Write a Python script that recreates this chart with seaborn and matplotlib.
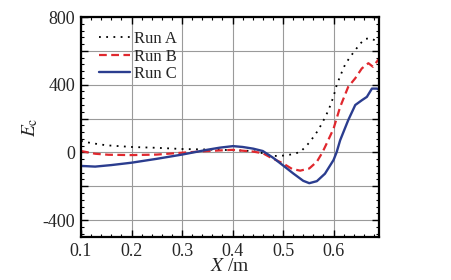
import numpy as np
import pandas as pd
import matplotlib
matplotlib.use("Agg")
import matplotlib.pyplot as plt
from matplotlib.ticker import MultipleLocator, FixedLocator, FuncFormatter
import seaborn as sns

sns.set_theme(style="ticks")
plt.rcParams["font.family"] = ["Liberation Serif", "DejaVu Serif"]
plt.rcParams["mathtext.fontset"] = "stix"
plt.rcParams["axes.unicode_minus"] = False

# Run A (black dotted)
xa = [0.1, 0.12, 0.15, 0.2, 0.25, 0.3, 0.35, 0.4, 0.44, 0.46, 0.474, 0.49, 0.503,
      0.517, 0.534, 0.544, 0.553, 0.567, 0.577, 0.59, 0.6, 0.606, 0.613, 0.623,
      0.633, 0.643, 0.652, 0.662, 0.672, 0.68, 0.69]
ya = [68, 55, 42, 32, 27, 20, 17, 13, 8, -5, -18, -22, -18,
      -12, 2, 32, 61, 120, 170, 249, 330, 395, 450, 520,
      565, 604, 640, 670, 675, 665, 650]

# Run B (red dashed)
xb = [0.1, 0.128, 0.154, 0.2, 0.25, 0.3, 0.35, 0.4, 0.44, 0.46, 0.474, 0.5, 0.518,
      0.534, 0.552, 0.567, 0.578, 0.586, 0.6, 0.613, 0.629, 0.643, 0.656, 0.669,
      0.678, 0.688, 0.69]
yb = [8, -8, -14, -16, -13, -2, 8, 15, 5, -5, -28, -65, -98,
      -108, -95, -55, 0, 50, 140, 268, 387, 438, 496, 527,
      506, 545, 550]

# Run C (blue solid)
xc = [0.1, 0.128, 0.16, 0.2, 0.25, 0.3, 0.351, 0.375, 0.401, 0.42, 0.441, 0.46,
      0.48, 0.5, 0.52, 0.54, 0.552, 0.567, 0.583, 0.6, 0.606, 0.613, 0.629,
      0.643, 0.656, 0.666, 0.676, 0.686, 0.69]
yc = [-80, -84, -75, -61, -38, -13, 16, 28, 37, 32, 22, 8,
      -31, -77, -124, -168, -182, -170, -126, -45, 0, 71, 190,
      280, 308, 328, 377, 377, 370]

fig = plt.figure(figsize=(4.52, 2.80), dpi=100)
ax = fig.add_axes([81 / 452, 43 / 280, 298 / 452, 220 / 280])

sns.lineplot(x=xa, y=ya, ax=ax, color="black", linestyle=(0, (1, 3)),
             linewidth=1.3, label="Run A", sort=False)
sns.lineplot(x=xb, y=yb, ax=ax, color="#e0282e", linestyle=(0, (3.5, 2)),
             linewidth=1.6, label="Run B", sort=False)
sns.lineplot(x=xc, y=yc, ax=ax, color="#2b3d8f", linestyle="-",
             linewidth=1.7, label="Run C", sort=False)

ax.set_xlim(0.1, 0.69)
ax.set_ylim(-500, 800)

ax.xaxis.set_major_locator(MultipleLocator(0.1))
ax.xaxis.set_minor_locator(MultipleLocator(0.02))
ax.xaxis.set_major_formatter(FuncFormatter(lambda v, p: f"{v:.1f}"))
ax.yaxis.set_major_locator(FixedLocator([-400, -200, 0, 200, 400, 600, 800]))
ax.yaxis.set_minor_locator(MultipleLocator(40))
ax.yaxis.set_major_formatter(
    FuncFormatter(lambda v, p: f"{int(v)}" if int(v) % 400 == 0 else ""))

ax.grid(True, which="major", color="#9a9a9a", linewidth=0.8)
ax.tick_params(which="both", direction="in", top=True, right=True,
               color="black", labelsize=13, pad=4)
ax.tick_params(which="major", length=5, width=1)
ax.tick_params(which="minor", length=2.5, width=0.8)
for s in ax.spines.values():
    s.set_color("black")
    s.set_linewidth(1.6)

ax.set_xlabel("$X$ /m", fontsize=14, labelpad=-1)
ax.set_ylabel("$E_\\mathrm{c}$", fontsize=14, labelpad=2)

ax.legend(loc="upper left", bbox_to_anchor=(0.02, 0.99), frameon=False,
          fontsize=12, handlelength=1.9, handletextpad=0.2, labelspacing=0.1,
          borderaxespad=0.3)

fig.savefig("out.png", dpi=100)
